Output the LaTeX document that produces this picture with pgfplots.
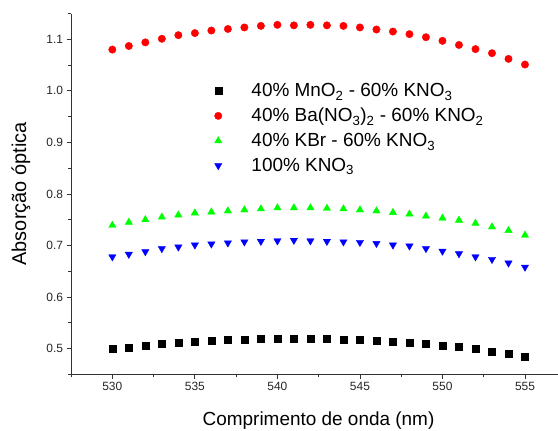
\documentclass[border=0pt]{standalone}
\usepackage{fontspec}
\setmainfont{Liberation Sans}
\usepackage{pgfplots}
\pgfplotsset{compat=1.18}
\usepackage{pgfplotstable}
\pgfplotstableread{
x black red green blue
530 0.500 1.080 0.739 0.678
531 0.502 1.087 0.745 0.683
532 0.505 1.094 0.750 0.688
533 0.510 1.101 0.755 0.694
534 0.512 1.108 0.759 0.697
535 0.514 1.112 0.763 0.701
536 0.516 1.117 0.765 0.703
537 0.518 1.120 0.767 0.705
538 0.518 1.123 0.769 0.707
539 0.519 1.126 0.771 0.708
540 0.520 1.128 0.773 0.709
541 0.520 1.127 0.773 0.710
542 0.520 1.128 0.773 0.709
543 0.519 1.127 0.772 0.708
544 0.518 1.126 0.771 0.707
545 0.517 1.123 0.769 0.706
546 0.516 1.119 0.767 0.704
547 0.514 1.115 0.764 0.701
548 0.512 1.110 0.761 0.699
549 0.510 1.104 0.757 0.694
550 0.506 1.097 0.753 0.689
551 0.503 1.089 0.749 0.684
552 0.499 1.081 0.743 0.678
553 0.494 1.073 0.736 0.673
554 0.490 1.062 0.729 0.666
555 0.484 1.051 0.720 0.658
}\datatable
\pgfplotsset{
  oneleg/.style={legend image code/.code={\path (0bp,0bp) (39bp,0bp); \draw[##1] plot coordinates {(8bp,0bp)};}}
}
\begin{document}
\begin{tikzpicture}
\useasboundingbox (-71bp,-56bp) rectangle (486.5bp,374bp);
\begin{axis}[
  scale only axis,
  width=486.5bp, height=360.5bp,
  xmin=527.5, xmax=557.0,
  ymin=0.45, ymax=1.15,
  axis x line*=bottom, axis y line*=left,
  axis line style={line width=0.9pt, black!80},
  tick align=outside,
  tick style={line width=0.8pt, black!80},
  major tick length=4.5bp, minor tick length=3bp,
  xtick={530,535,...,555},
  minor xtick={527.5,532.5,...,557.5},
  ytick={0.5,0.6,...,1.1},
  minor ytick={0.45,0.55,...,1.15},
  /pgf/number format/assume math mode=true,
  yticklabel style={/pgf/number format/fixed, /pgf/number format/fixed zerofill, /pgf/number format/precision=1, font=\fontsize{12}{14}\selectfont, text=black!85},
  xticklabel style={font=\fontsize{12}{14}\selectfont, text=black!85},
  xlabel={Comprimento de onda (nm)},
  ylabel={Absorção óptica},
  every axis x label/.style={at={(axis description cs:0.5,0)}, anchor=base, xshift=4bp, yshift=-51.5bp, font=\fontsize{19}{22}\selectfont},
  every axis y label/.style={at={(axis description cs:0,0.5)}, rotate=90, anchor=center, yshift=50bp, font=\fontsize{20}{22}\selectfont},
  legend cell align=left,
  legend style={at={(0.285,0.812)}, anchor=north west, draw=none, fill=none, inner sep=0pt,
    font=\fontsize{19}{19}\selectfont, row sep=6bp},
]
\addplot[only marks, mark=square*, mark size=3.5bp, black, oneleg] table[x=x,y=black] {\datatable};
\addlegendentry{40\% MnO\textsubscript{2} - 60\% KNO\textsubscript{3}}
\addplot[only marks, mark=*, mark size=3.7bp, red, oneleg] table[x=x,y=red] {\datatable};
\addlegendentry{40\% Ba(NO\textsubscript{3})\textsubscript{2} - 60\% KNO\textsubscript{2}}
\addplot[only marks, mark=triangle*, mark size=4.2bp, color={rgb,255:red,0;green,255;blue,0}, oneleg] table[x=x,y=green] {\datatable};
\addlegendentry{40\% KBr - 60\% KNO\textsubscript{3}}
\addplot[only marks, mark=triangle*, mark options={rotate=180}, mark size=4.2bp, blue, oneleg] table[x=x,y=blue] {\datatable};
\addlegendentry{100\% KNO\textsubscript{3}}
\end{axis}
\end{tikzpicture}
\end{document}
